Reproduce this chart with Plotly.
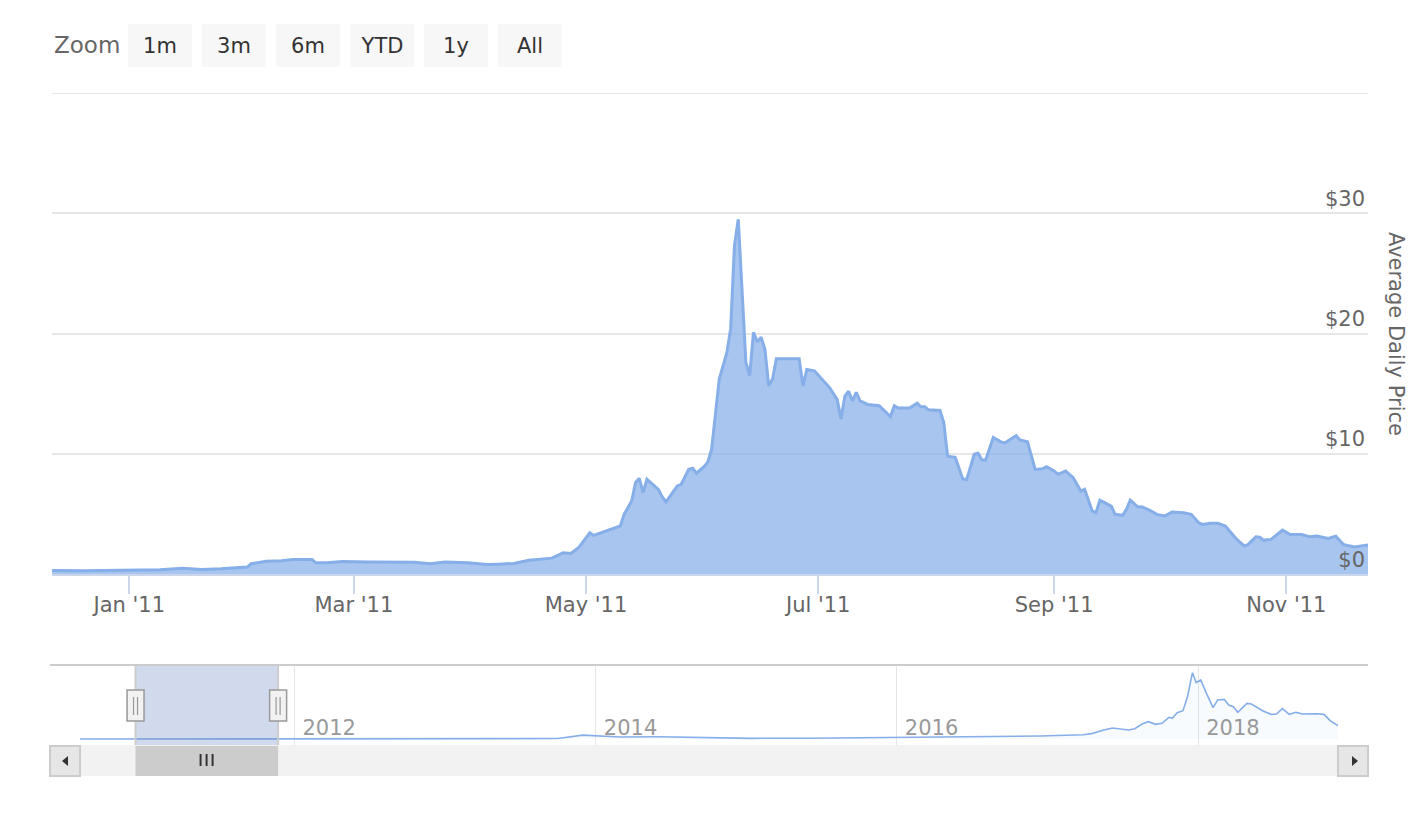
import plotly.graph_objects as go

# ---------------- data ----------------
price_dates = [
    "2010-12-02", "2010-12-12", "2010-12-20", "2010-12-28", "2011-01-05", "2011-01-09",
    "2011-01-15", "2011-01-20", "2011-01-25", "2011-01-30", "2011-02-01", "2011-02-02",
    "2011-02-06", "2011-02-10", "2011-02-13", "2011-02-18", "2011-02-19", "2011-02-22",
    "2011-02-26", "2011-03-05", "2011-03-12", "2011-03-17", "2011-03-21", "2011-03-25",
    "2011-03-31", "2011-04-05", "2011-04-08", "2011-04-12", "2011-04-16", "2011-04-20",
    "2011-04-22", "2011-04-25", "2011-04-27", "2011-04-29", "2011-05-02", "2011-05-03",
    "2011-05-06", "2011-05-10", "2011-05-11", "2011-05-13", "2011-05-14", "2011-05-15",
    "2011-05-16", "2011-05-17", "2011-05-20", "2011-05-21", "2011-05-22", "2011-05-25",
    "2011-05-26", "2011-05-28", "2011-05-29", "2011-05-30", "2011-06-01", "2011-06-02",
    "2011-06-03", "2011-06-05", "2011-06-07", "2011-06-08", "2011-06-09", "2011-06-10",
    "2011-06-12", "2011-06-13", "2011-06-14", "2011-06-15", "2011-06-16", "2011-06-17",
    "2011-06-18", "2011-06-19", "2011-06-20", "2011-06-26", "2011-06-27", "2011-06-28",
    "2011-06-30", "2011-07-03", "2011-07-04", "2011-07-06", "2011-07-07", "2011-07-08",
    "2011-07-09", "2011-07-10", "2011-07-11", "2011-07-12", "2011-07-14", "2011-07-17",
    "2011-07-20", "2011-07-21", "2011-07-22", "2011-07-25", "2011-07-27", "2011-07-28",
    "2011-07-29", "2011-07-30", "2011-08-02", "2011-08-03", "2011-08-04", "2011-08-06",
    "2011-08-08", "2011-08-09", "2011-08-11", "2011-08-12", "2011-08-13", "2011-08-14",
    "2011-08-16", "2011-08-18", "2011-08-19", "2011-08-22", "2011-08-23", "2011-08-25",
    "2011-08-27", "2011-08-29", "2011-08-30", "2011-09-01", "2011-09-02", "2011-09-04",
    "2011-09-06", "2011-09-08", "2011-09-09", "2011-09-11", "2011-09-12", "2011-09-13",
    "2011-09-14", "2011-09-16", "2011-09-17", "2011-09-19", "2011-09-20", "2011-09-21",
    "2011-09-23", "2011-09-24", "2011-09-26", "2011-09-28", "2011-09-30", "2011-10-02",
    "2011-10-05", "2011-10-07", "2011-10-09", "2011-10-10", "2011-10-12", "2011-10-14",
    "2011-10-16", "2011-10-19", "2011-10-21", "2011-10-22", "2011-10-24", "2011-10-25",
    "2011-10-26", "2011-10-28", "2011-10-31", "2011-11-02", "2011-11-05", "2011-11-07",
    "2011-11-09", "2011-11-12", "2011-11-14", "2011-11-16", "2011-11-17", "2011-11-19",
    "2011-11-22", "2011-11-25",
]
price_values = [
    0.23, 0.30, 0.27, 0.30, 0.32, 0.36,
    0.47, 0.38, 0.44, 0.50, 0.58, 0.85,
    1.05, 1.10, 1.20, 1.20, 0.93, 0.93,
    1.04, 1.00, 0.98, 0.98, 0.85, 1.00,
    0.93, 0.79, 0.82, 0.88, 1.15, 1.26,
    1.32, 1.76, 1.71, 2.18, 3.43, 3.21,
    3.57, 3.99, 4.96, 6.07, 7.60, 7.96,
    6.76, 7.88, 7.04, 6.43, 5.99, 7.32,
    7.46, 8.71, 8.79, 8.38, 8.93, 9.32,
    10.38, 16.2, 18.4, 20.4, 27.3, 29.5,
    17.6, 16.5, 20.1, 19.3, 19.7, 18.7,
    15.65, 16.2, 17.9, 17.9, 15.65, 17.0,
    16.9, 15.9, 15.5, 14.5, 12.9, 14.8,
    15.2, 14.4, 15.1, 14.4, 14.1, 14.0,
    13.1, 14.0, 13.8, 13.8, 14.2, 13.9,
    13.9, 13.65, 13.6, 12.6, 9.8, 9.7,
    7.9, 7.85, 9.96, 10.04, 9.49, 9.49,
    11.35, 10.99, 10.9, 11.5, 11.15, 10.99,
    8.7, 8.76, 8.93, 8.57, 8.29, 8.57,
    8.01, 6.9, 7.04, 5.24, 5.1, 6.15,
    5.99, 5.65, 4.96, 4.88, 5.38, 6.15,
    5.57, 5.6, 5.32, 4.96, 4.82, 5.15,
    5.1, 4.96, 4.26, 4.12, 4.21, 4.21,
    3.99, 2.88, 2.32, 2.46, 3.1, 3.07,
    2.82, 2.88, 3.65, 3.29, 3.29, 3.1,
    3.15, 2.96, 3.15, 2.46, 2.38, 2.24,
    2.4, 2.45,
]

# full history shown in the navigator
nav_dates = [
    "2010-07-30", "2010-10-01", "2011-01-01", "2011-06-10", "2011-12-01", "2012-06-01",
    "2012-12-01", "2013-04-10", "2013-07-01", "2013-10-01", "2013-11-30", "2014-01-05",
    "2014-03-01", "2014-06-01", "2014-09-15", "2015-01-15", "2015-06-01", "2015-11-05",
    "2016-01-01", "2016-06-20", "2016-12-15", "2017-03-28", "2017-04-20", "2017-05-17",
    "2017-06-07", "2017-07-16", "2017-07-31", "2017-08-18", "2017-09-02", "2017-09-20",
    "2017-10-05", "2017-10-22", "2017-10-30", "2017-11-11", "2017-11-25", "2017-12-06",
    "2017-12-18", "2017-12-27", "2018-01-07", "2018-01-21", "2018-02-06", "2018-02-17",
    "2018-03-05", "2018-03-16", "2018-03-27", "2018-04-07", "2018-04-29", "2018-05-10",
    "2018-06-06", "2018-06-27", "2018-07-10", "2018-07-24", "2018-08-10", "2018-08-26",
    "2018-09-11", "2018-10-14", "2018-11-02", "2018-11-17", "2018-11-26", "2018-12-06",
]
nav_values = [
    0.07, 0.1, 0.3, 29, 3, 6,
    13, 200, 90, 130, 1150, 950,
    600, 650, 400, 200, 230, 400,
    430, 690, 880, 1274, 1666, 2646,
    3234, 2646, 3038, 4410, 5096, 4312,
    4606, 6370, 6076, 7742, 8330, 12446,
    19502, 16562, 17346, 13426, 9212, 11466,
    11662, 9996, 9506, 7840, 10486, 10290,
    8330, 7252, 7350, 8918, 7252, 7840,
    7350, 7448, 7252, 5390, 4606, 3900,
]

view_start = "2010-12-11 16:30"
view_end = "2011-11-22 11:00"
nav_start = "2010-07-30"
nav_end = "2018-12-06"
thumb_center = "2011-06-02"

y_ticks = [0, 10, 20, 30, 40]
y_tick_text = ["$0", "$10", "$20", "$30", ""]
zoom_buttons = ["1m", "3m", "6m", "YTD", "1y", "All"]
y_title = "Average Daily Price"

# ---------------- layout helpers ----------------
# the page body has an 8px margin, so the figure sits at (8, 8) in the window
OFF = 8
W, H = 1428 - OFF, 830 - OFF
L, T = 52 - OFF, 93 - OFF
R = W - (1368 - OFF)
B = H - (776 - OFF)
PW, PH = W - L - R, H - T - B


def px(x):
    """window pixel x -> paper fraction"""
    return (x - OFF - L) / PW


def py(y):
    """window pixel y -> paper fraction"""
    return (H - B - (y - OFF)) / PH


FONT = "DejaVu Sans"
LINE = "#86aee8"
FILL = "rgba(133,174,232,0.72)"

fig = go.Figure()

fig.add_trace(go.Scatter(
    x=price_dates, y=price_values, mode="lines",
    line=dict(color=LINE, width=3),
    fill="tozeroy", fillcolor=FILL,
    xaxis="x", yaxis="y", showlegend=False,
    hovertemplate="%{x|%b %d, %Y}<br>$%{y:.2f}<extra></extra>",
))

fig.add_trace(go.Scatter(
    x=nav_dates, y=nav_values, mode="lines",
    line=dict(color=LINE, width=1.6),
    fill="tozeroy", fillcolor="rgba(124,181,236,0.06)",
    xaxis="x2", yaxis="y2", showlegend=False, hoverinfo="skip",
))

shapes = []
# top gridline of the main chart (at the axis maximum)
shapes.append(dict(type="line", xref="paper", yref="y",
                   x0=0, x1=1, y0=y_ticks[-1], y1=y_ticks[-1],
                   line=dict(color="#e6e6e6", width=2), layer="below"))
# scrollbar track
shapes.append(dict(type="rect", xref="paper", yref="paper",
                   x0=px(50), x1=px(1368), y0=py(776), y1=py(745),
                   fillcolor="#f2f2f2", line=dict(width=0), layer="above"))
# navigator selection mask
shapes.append(dict(type="rect", xref="x2", yref="paper",
                   x0=view_start, x1=view_end, y0=py(745), y1=py(665),
                   fillcolor="rgba(102,133,194,0.3)", line=dict(width=0), layer="above"))
# outline top
shapes.append(dict(type="line", xref="paper", yref="paper",
                   x0=px(50), x1=px(1368), y0=py(665), y1=py(665),
                   line=dict(color="#cccccc", width=2), layer="above"))
# mask edges
for edge in (view_start, view_end):
    shapes.append(dict(type="line", xref="x2", yref="paper",
                       x0=edge, x1=edge, y0=py(745), y1=py(665),
                       line=dict(color="#cccccc", width=2), layer="above"))
# scrollbar thumb
shapes.append(dict(type="rect", xref="x2", yref="paper",
                   x0=view_start, x1=view_end, y0=py(776), y1=py(746),
                   fillcolor="#cccccc", line=dict(width=0), layer="above"))
# grip lines
for off in (-6, 0, 6):
    shapes.append(dict(type="line", xref="x2", yref="paper", xsizemode="pixel",
                       xanchor=thumb_center, x0=off, x1=off, y0=py(766), y1=py(754),
                       line=dict(color="#333333", width=2), layer="above"))
# scrollbar buttons
for x0, x1 in ((50, 80), (1338, 1368)):
    shapes.append(dict(type="rect", xref="paper", yref="paper",
                       x0=px(x0), x1=px(x1), y0=py(776), y1=py(746),
                       fillcolor="#e6e6e6", line=dict(color="#cccccc", width=2), layer="above"))
# arrows
shapes.append(dict(type="path", xref="paper", yref="paper",
                   path=f"M {px(62)},{py(761)} L {px(68)},{py(756)} L {px(68)},{py(766)} Z",
                   fillcolor="#333333", line=dict(width=0), layer="above"))
shapes.append(dict(type="path", xref="paper", yref="paper",
                   path=f"M {px(1358)},{py(761)} L {px(1352)},{py(756)} L {px(1352)},{py(766)} Z",
                   fillcolor="#333333", line=dict(width=0), layer="above"))
# handles
for edge in (view_start, view_end):
    shapes.append(dict(type="rect", xref="x2", yref="paper", xsizemode="pixel",
                       xanchor=edge, x0=-8.5, x1=8.5, y0=py(721), y1=py(690),
                       fillcolor="#f2f2f2", line=dict(color="#999999", width=1.5), layer="above"))
    for off in (-2, 2):
        shapes.append(dict(type="line", xref="x2", yref="paper", xsizemode="pixel",
                           xanchor=edge, x0=off, x1=off, y0=py(715), y1=py(697),
                           line=dict(color="#999999", width=1.2), layer="above"))

annotations = []
annotations.append(dict(text="Zoom", xref="paper", yref="paper", x=px(52), y=py(45.5),
                        xanchor="left", yanchor="middle", showarrow=False,
                        font=dict(family=FONT, size=23, color="#666666")))
for i, lab in enumerate(zoom_buttons):
    left = 128 + i * 74
    annotations.append(dict(text=lab, xref="paper", yref="paper", x=px(left + 32), y=py(45.5),
                            xanchor="center", yanchor="middle", showarrow=False,
                            width=64, height=43, bgcolor="#f7f7f7", borderpad=0, borderwidth=0,
                            font=dict(family=FONT, size=21, color="#333333")))
annotations.append(dict(text=y_title, xref="paper", yref="paper", x=px(1396), y=py(334),
                        xanchor="center", yanchor="middle", showarrow=False, textangle=90,
                        font=dict(family=FONT, size=21, color="#666666")))

fig.update_layout(
    width=W, height=H,
    margin=dict(l=L, r=R, t=T, b=B),
    paper_bgcolor="white", plot_bgcolor="white",
    font=dict(family=FONT, color="#666666"),
    showlegend=False,
    xaxis=dict(
        domain=[0, 1], anchor="y", range=[view_start, view_end], type="date",
        showgrid=False, zeroline=False,
        showline=True, linecolor="#ccd6eb", linewidth=2,
        ticks="outside", ticklen=18, tickwidth=2, tickcolor="#ccd6eb",
        ticklabelstandoff=-7,
        dtick="M2", tick0="2011-01-01", tickformat="%b '%y",
        tickfont=dict(family=FONT, size=21, color="#666666"),
        fixedrange=True,
    ),
    yaxis=dict(
        domain=[py(574), 1], anchor="x", side="right", range=[0, 40],
        tickvals=y_ticks, ticktext=y_tick_text,
        ticklabelposition="inside top",
        showgrid=True, gridcolor="#e6e6e6", gridwidth=2,
        zeroline=False, showline=False, ticks="",
        tickfont=dict(family=FONT, size=21, color="#666666"),
        fixedrange=True,
    ),
    xaxis2=dict(
        domain=[px(80), px(1338)], anchor="y2", range=[nav_start, nav_end], type="date",
        showgrid=True, gridcolor="#e6e6e6", gridwidth=1,
        dtick="M24", tick0="2012-01-01", tickformat="%Y",
        ticklabelposition="inside right", ticklabelshift=8, ticks="",
        showline=False, zeroline=False,
        tickfont=dict(family=FONT, size=21, color="#999999"),
        fixedrange=True,
    ),
    yaxis2=dict(
        domain=[py(745), py(665)], anchor="x2", range=[-1760, 21760],
        visible=False, fixedrange=True,
    ),
    shapes=shapes,
    annotations=annotations,
)

fig.write_html("out.html", config={"displayModeBar": False})
